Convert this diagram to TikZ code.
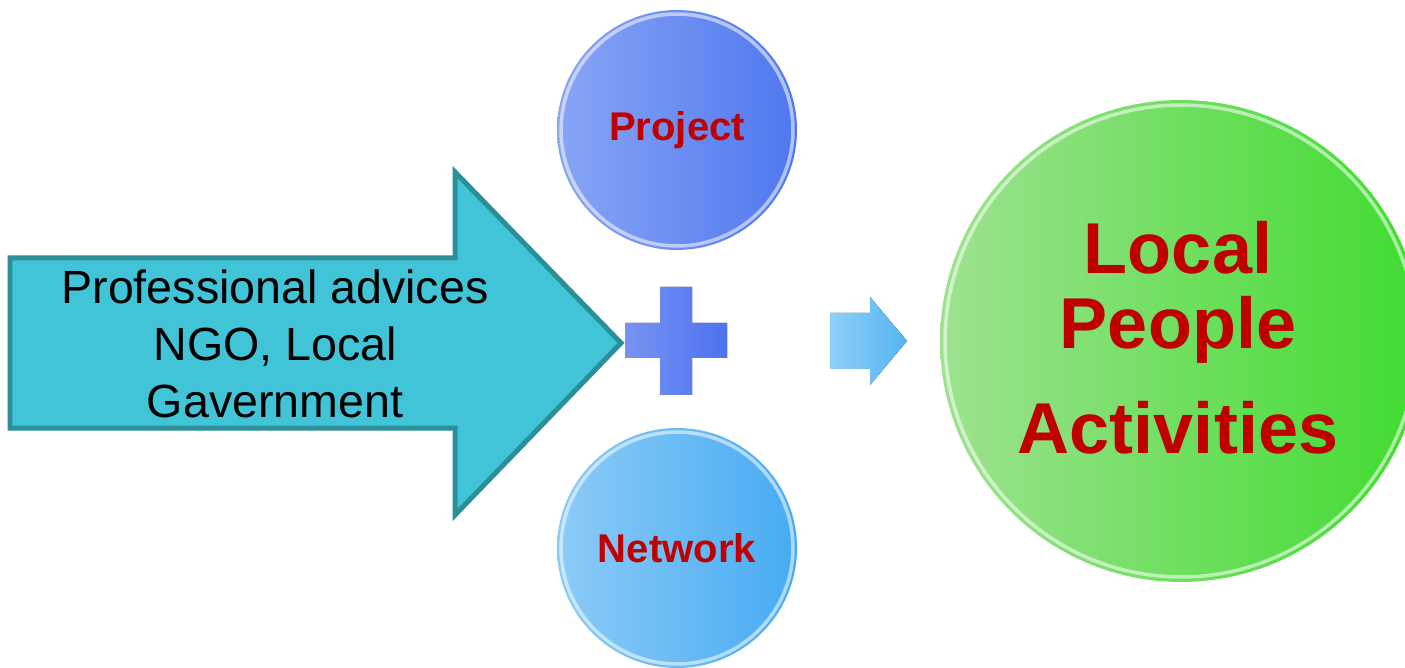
\documentclass[tikz,border=0pt]{standalone}
\usepackage{fontspec}
\setmainfont{Liberation Sans}
\usetikzlibrary{positioning}

\definecolor{arrowfill}{HTML}{42C4D8}
\definecolor{arrowline}{HTML}{2B8F99}
\definecolor{projleft}{HTML}{88A5F5}
\definecolor{projright}{HTML}{4F78EF}
\definecolor{netleft}{HTML}{8CCBF8}
\definecolor{netright}{HTML}{47ABF2}
\definecolor{greenleft}{HTML}{9EE290}
\definecolor{greenright}{HTML}{40DB30}
\definecolor{plusleft}{HTML}{7693F3}
\definecolor{plusright}{HTML}{4E72EE}
\definecolor{tipleft}{HTML}{8ECFF8}
\definecolor{tipright}{HTML}{55B4F1}
\definecolor{labelred}{HTML}{C00000}

\tikzset{
  bubble/.style={circle, inner sep=0pt, text=labelred, minimum size=4.8cm,
    font=\fontsize{22.8pt}{27pt}\selectfont\bfseries},
  gloss/.style={white, opacity=.55, line width=2pt},
}

\begin{document}
\begin{tikzpicture}[x=0.02cm, y=-0.02cm]
  \useasboundingbox (0,0) rectangle (1405,668);

  % big input arrow
  \draw [arrowline, fill=arrowfill, line width=0.1cm, line join=miter]
    (10,258) -- (455,258) -- (455,172) -- (621,343) -- (455,515)
    -- (455,428) -- (10,428) -- cycle;
  \node [align=center, inner sep=0pt,
    font=\fontsize{26.5pt}{32.4pt}\selectfont] (advice) at (275,344)
    {Professional advices\\NGO, Local\\Gavernment};

  % the two small circles
  \node [bubble, left color=projleft, right color=projright] (project) at (677,130) {Project};
  \node [bubble, left color=netleft, right color=netright] (network) at (677,548) {Network};
  \draw [gloss] (project.center) circle (2.32cm);
  \draw [gloss] (network.center) circle (2.32cm);

  % plus sign
  \fill [left color=plusleft, right color=plusright]
    (660,287) -- (692,287) -- (692,323) -- (727,323) -- (727,358) -- (692,358)
    -- (692,395) -- (660,395) -- (660,358) -- (625,358) -- (625,323) -- (660,323) -- cycle;

  % small arrow
  \fill [left color=tipleft, right color=tipright]
    (830,313) -- (870,313) -- (870,297) -- (907,341) -- (870,385) -- (870,369)
    -- (830,369) -- cycle;

  % result circle
  \node [circle, inner sep=0pt, minimum size=9.64cm,
    left color=greenleft, right color=greenright] (result) at (1181,341) {};
  \draw [gloss] (result.center) circle (4.72cm);
  \node [align=center, inner sep=0pt, text=labelred,
    font=\fontsize{41pt}{42.7pt}\selectfont\bfseries] (activities) at (1178,338)
    {Local\\People\\[17pt]Activities};
\end{tikzpicture}
\end{document}
